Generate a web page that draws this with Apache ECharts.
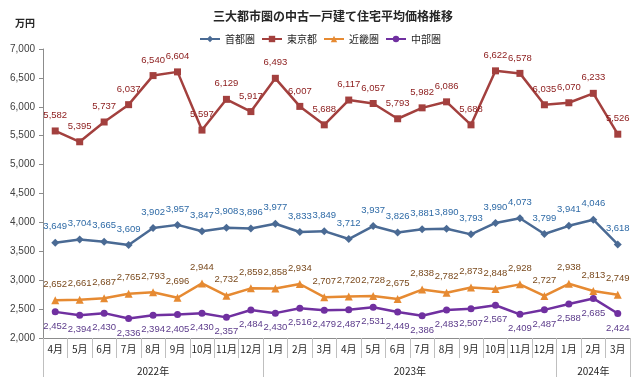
<!DOCTYPE html>
<html><head><meta charset="utf-8">
<script src="https://cdn.jsdelivr.net/npm/echarts@6/dist/echarts.min.js"></script>
<style>html,body{margin:0;padding:0;background:#fff}#c{width:640px;height:387px}</style>
</head><body><div id="c"></div>
<script>
const months = ['4月','5月','6月','7月','8月','9月','10月','11月','12月','1月','2月','3月','4月','5月','6月','7月','8月','9月','10月','11月','12月','1月','2月','3月'];
const yearLabels = ['2022年','2023年','2024年'];
const yearCenters = [4.5, 15, 22.5];
const yearBounds = [0, 9, 21, 24];
const seriesNames = ['首都圏','東京都','近畿圏','中部圏'];
const shuto = [3649,3704,3665,3609,3902,3957,3847,3908,3896,3977,3833,3849,3712,3937,3826,3881,3890,3793,3990,4073,3799,3941,4046,3618];
const tokyo = [5582,5395,5737,6037,6540,6604,5597,6129,5917,6493,6007,5688,6117,6057,5793,5982,6086,5688,6622,6578,6035,6070,6233,5526];
const kinki = [2652,2661,2687,2765,2793,2696,2944,2732,2859,2858,2934,2707,2720,2728,2675,2838,2782,2873,2848,2928,2727,2938,2813,2749];
const chubu = [2452,2394,2430,2336,2394,2405,2430,2357,2484,2430,2516,2479,2487,2531,2449,2386,2483,2507,2567,2409,2487,2588,2685,2424];

const FONT = '"Noto Sans CJK JP", sans-serif';
const NUMFONT = '"Liberation Sans", sans-serif';
const fmt = v => v.toLocaleString('en-US');
function mk(name, data, color, labelColor, symbol, size, pos, dist) {
  return {
    name, type: 'line', data, symbol, symbolSize: size,
    lineStyle: { color, width: 2.5 }, itemStyle: { color },
    label: { show: true, position: pos, distance: dist, color: labelColor, fontSize: 9.5, fontFamily: NUMFONT,
      formatter: p => fmt(p.value) },
    emphasis: { disabled: true }, animation: false
  };
}
const chart = echarts.init(document.getElementById('c'));
chart.setOption({
  animation: false,
  textStyle: { fontFamily: FONT },
  title: [
    { text: '三大都市圏の中古一戸建て住宅平均価格推移', left: 328, top: 5, textAlign: 'center',
      textStyle: { fontSize: 12, fontWeight: 'bold', color: '#262626', fontFamily: FONT } },
    { text: '万円', left: 10, top: 13, textStyle: { fontSize: 10, fontWeight: 'bold', color: '#262626', fontFamily: FONT } }
  ],
  legend: {
    top: 29, left: 'center', itemWidth: 20, itemHeight: 8, itemGap: 6,
    textStyle: { fontSize: 10, color: '#262626', fontFamily: FONT },
    data: seriesNames
  },
  grid: { left: 43, right: 10, top: 49, bottom: 49 },
  xAxis: [
    { type: 'category', data: months, boundaryGap: true,
      axisLine: { lineStyle: { color: '#8c8c8c' } },
      axisTick: { show: true, interval: 0, length: 20, lineStyle: { color: '#bfbfbf' } },
      axisLabel: { interval: 0, fontSize: 10, color: '#262626', margin: 6, fontFamily: FONT } },
    { type: 'value', min: 0, max: 24, position: 'bottom',
      axisLine: { show: false },
      splitLine: { show: false },
      axisTick: { show: true, customValues: yearBounds, length: 39, lineStyle: { color: '#bfbfbf' } },
      axisLabel: { customValues: yearCenters, margin: 28, fontSize: 10, color: '#262626', fontFamily: FONT,
        formatter: v => yearLabels[yearCenters.indexOf(v)] } }
  ],
  yAxis: {
    type: 'value', min: 2000, max: 7000, interval: 500,
    axisLine: { show: true, lineStyle: { color: '#8c8c8c' } },
    axisTick: { show: true, length: 4, lineStyle: { color: '#8c8c8c' } },
    splitLine: { show: false },
    axisLabel: { fontSize: 10, color: '#404040', margin: 8, formatter: v => fmt(v), fontFamily: NUMFONT }
  },
  series: [
    mk('首都圏', shuto, '#4a6a94', '#2e6aa6', 'diamond', 8, 'top', 7),
    mk('東京都', tokyo, '#a3403e', '#8b1a1a', 'rect', 7, 'top', 7),
    mk('近畿圏', kinki, '#e68a32', '#7a4a1e', 'triangle', 8, 'top', 7),
    mk('中部圏', chubu, '#7030a0', '#5b3a8a', 'circle', 7, 'bottom', 6)
  ]
});
</script></body></html>
